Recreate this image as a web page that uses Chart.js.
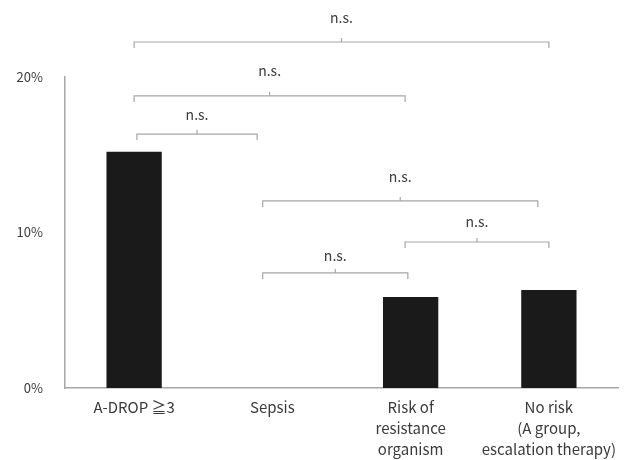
<!DOCTYPE html>
<html>
<head>
<meta charset="utf-8">
<script src="https://cdn.jsdelivr.net/npm/chart.js@4"></script>
<style>
  html, body { margin: 0; padding: 0; background: #fff; }
  #wrap { width: 632px; height: 460px; }
</style>
</head>
<body>
<div id="wrap"><canvas id="chart" width="632" height="460"></canvas></div>
<script>
// categories and values (percent)
const categories = [
    'A-DROP \u22673',
    'Sepsis',
    ['Risk of', 'resistance', 'organism'],
    ['No risk', '(A group,', 'escalation therapy)']
];
const rates = [15.2, 0, 5.85, 6.3];
const yTicks = [0, 10, 20];

// significance brackets: from / to are category positions, level = bracket height in %
const bracketFrom  = [0, 0, 0.02, 0.93, 1.96, 0.93];
const bracketTo    = [3, 1.96, 0.89, 2.92, 3, 1.98];
const bracketLevel = [22.25, 18.78, 16.33, 12.03, 9.39, 7.4];
const labelLevel   = [23.8, 20.4, 17.6, 13.6, 10.7, 8.5];
const bracketText  = ['n.s.', 'n.s.', 'n.s.', 'n.s.', 'n.s.', 'n.s.'];

const FONT = '"Noto Sans CJK JP", "Noto Sans", sans-serif';
const TEXT_COLOR = '#3a3a3a';
const LINE_COLOR = '#a6a6a6';

// draws the n.s. brackets above the bars
const bracketPlugin = {
    id: 'brackets',
    afterDatasetsDraw(chart) {
        const ctx = chart.ctx;
        const xs = chart.scales.x;
        const ys = chart.scales.y;
        ctx.save();
        ctx.strokeStyle = LINE_COLOR;
        ctx.lineWidth = 1.2;
        ctx.fillStyle = TEXT_COLOR;
        ctx.font = '14px ' + FONT;
        ctx.textAlign = 'center';
        ctx.textBaseline = 'middle';
        bracketFrom.forEach((from, i) => {
            const x1 = xs.getPixelForValue(from);
            const x2 = xs.getPixelForValue(bracketTo[i]);
            const y = ys.getPixelForValue(bracketLevel[i]);
            const mid = (x1 + x2) / 2;
            ctx.beginPath();
            ctx.moveTo(x1, y + 6);
            ctx.lineTo(x1, y);
            ctx.lineTo(x2, y);
            ctx.lineTo(x2, y + 6);
            ctx.moveTo(mid, y);
            ctx.lineTo(mid, y - 4);
            ctx.stroke();
            ctx.fillText(bracketText[i], mid, ys.getPixelForValue(labelLevel[i]));
        });
        ctx.restore();
    }
};

new Chart(document.getElementById('chart').getContext('2d'), {
    type: 'bar',
    data: {
        labels: categories,
        datasets: [{
            data: rates,
            backgroundColor: '#1a1a1a',
            borderWidth: 0,
            barPercentage: 0.4,
            categoryPercentage: 1.0
        }]
    },
    options: {
        responsive: false,
        animation: false,
        events: [],
        layout: { padding: { top: 77, right: 14, left: 0, bottom: 0 } },
        plugins: {
            legend: { display: false },
            tooltip: { enabled: false }
        },
        scales: {
            x: {
                grid: { display: false, drawTicks: false },
                border: { color: LINE_COLOR, width: 1.5 },
                ticks: {
                    color: TEXT_COLOR,
                    font: { family: FONT, size: 15, lineHeight: 1.4 },
                    padding: 9,
                    maxRotation: 0,
                    autoSkip: false
                },
                afterFit: s => { s.height = 72; }
            },
            y: {
                min: 0,
                max: 20,
                grid: { display: false, drawTicks: false },
                border: { color: LINE_COLOR, width: 1.5 },
                afterBuildTicks: s => { s.ticks = yTicks.map(v => ({ value: v })); },
                ticks: {
                    color: TEXT_COLOR,
                    font: { family: FONT, size: 13 },
                    padding: 22,
                    callback: v => v + '%'
                },
                afterFit: s => { s.width = 65; }
            }
        }
    },
    plugins: [bracketPlugin]
});
</script>
</body>
</html>
